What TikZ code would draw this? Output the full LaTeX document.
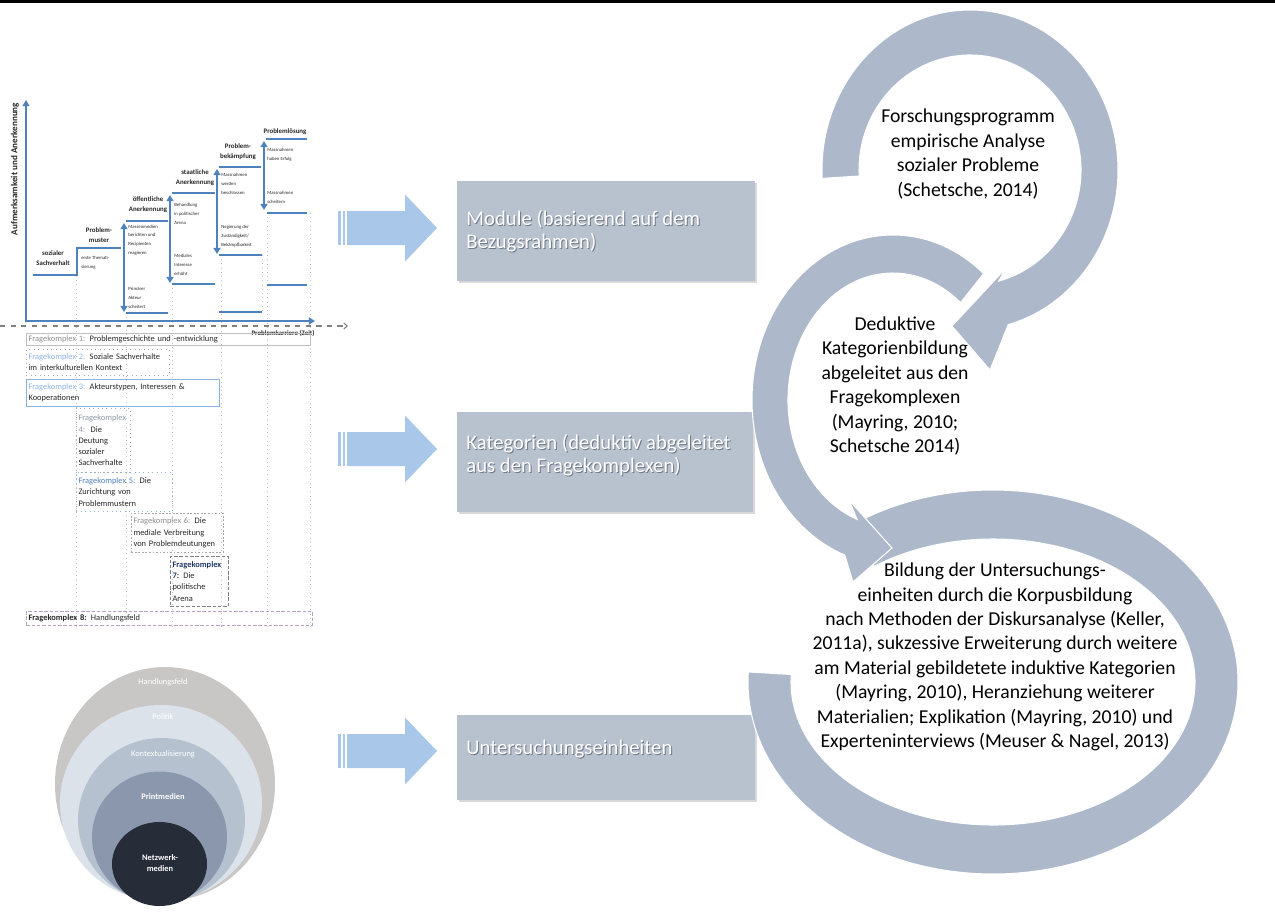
\documentclass[tikz,border=0pt]{standalone}
\usepackage{fontspec}
\setmainfont{Carlito}
\usetikzlibrary{arrows.meta,shadows}

\definecolor{ringc}{HTML}{ADB9CA}
\definecolor{boxc}{HTML}{B8C2CF}
\definecolor{arrowc}{HTML}{A9C8E9}
\definecolor{stepc}{HTML}{4F81BD}
\definecolor{dotc}{HTML}{C4C4C4}
\definecolor{txtc}{HTML}{262626}
\definecolor{shadec}{HTML}{6F7886}
\definecolor{fkgrey}{HTML}{8C8C8C}
\definecolor{fklight}{HTML}{8DB3E2}
\definecolor{fkblue}{HTML}{4F81BD}
\definecolor{fknavy}{HTML}{1F3864}
\definecolor{fkpurple}{HTML}{B3A2C7}
\definecolor{ellA}{HTML}{C9C7C5}
\definecolor{ellB}{HTML}{DCE2EA}
\definecolor{ellC}{HTML}{B6C1CF}
\definecolor{ellD}{HTML}{8A97AC}
\definecolor{ellE}{HTML}{262D39}

% blue block arrow, centred on height #1
\newcommand{\flowarrow}[1]{%
  \fill[arrowc] (338,{#1-17}) rectangle (340.5,{#1+17});
  \fill[arrowc] (342.5,{#1-17}) rectangle (345,{#1+17});
  \fill[arrowc] (347,{#1-17}) -- (405,{#1-17}) -- (405,{#1-33.5}) -- (437,#1)
    -- (405,{#1+33.5}) -- (405,{#1+17}) -- (347,{#1+17}) -- cycle;}

\begin{document}
\begin{tikzpicture}[x=0.02cm, y=-0.02cm,
  stepline/.style={draw=stepc, line width=1.1pt},
  steparrow/.style={stepline, {Triangle[length=3.5pt,width=4pt]}-{Triangle[length=3.5pt,width=4pt]}},
  gridline/.style={draw=dotc, dotted, line width=0.4pt},
  steplabel/.style={font=\fontsize{3.9}{5.6}\selectfont\bfseries, text=txtc, align=center, inner sep=0pt},
  stepnote/.style={font=\fontsize{2.7}{5}\selectfont, text=txtc, align=left, anchor=west, inner sep=0pt},
  fk/.style={anchor=north west, font=\fontsize{4.8}{6.4}\selectfont, text=txtc, align=left,
    inner xsep=1.2pt, inner ysep=0.8pt, line width=0.5pt},
  unitbox/.style={fill=boxc, inner sep=0pt, anchor=north west,
    drop shadow={shadow xshift=0.8pt, shadow yshift=-0.8pt, opacity=0.3}},
  boxtext/.style={font=\fontsize{11.8}{13}\selectfont, text=white, align=left, anchor=west, inner sep=0pt},
  boxshade/.style={boxtext, text=shadec},
  ring/.style={fill=ringc, draw=white, line width=0.6pt},
  ringtext/.style={font=\fontsize{11.2}{13.9}\selectfont, text=black, align=center, inner sep=0pt},
  elltext/.style={font=\fontsize{4.8}{6}\selectfont, text=white, align=center, inner sep=0pt}]

\useasboundingbox (0,0) rectangle (1275,913);
\fill[black] (0,0) rectangle (1275,3);

% chart: grid
\foreach \gx/\gy in {76/276, 126/313, 172/284, 221/255, 267/213, 310/213}
  \draw[gridline] (\gx,\gy) -- (\gx,628);
\draw[gridline] (262,255) -- (262,312);

% chart: axes
\draw[stepline, {Triangle[length=3.5pt,width=4pt]}-{Triangle[length=3.5pt,width=4pt]}]
  (26,100) -- (26,321) -- (315,321);
\draw[draw=gray, dashed, line width=0.6pt, -{Straight Barb[length=2pt,width=3.5pt]}] (0,326) -- (348,326);
\node[rotate=90, font=\fontsize{5.2}{6}\selectfont\bfseries, text=txtc, inner sep=0pt] (yaxis) at (15,169)
  {Aufmerksamkeit und Anerkennung};
\node[font=\fontsize{3.9}{5}\selectfont\bfseries, text=txtc, inner sep=0pt] (xaxis) at (283,333)
  {Problemkarriere (Zeit)};

% chart: steps
\draw[stepline] (33,275) -- (77,275) -- (77,248) -- (121,248);
\draw[steparrow] (124,223) -- (124,312);
\draw[stepline] (126,221) -- (168,221);
\draw[stepline] (126,313) -- (168,313);
\draw[steparrow] (170,195) -- (170,283);
\draw[stepline] (172,193) -- (215,193);
\draw[stepline] (172,284) -- (215,284);
\draw[steparrow] (217,169) -- (217,254);
\draw[stepline] (219,167) -- (261,167);
\draw[stepline] (219,255) -- (262,255);
\draw[stepline] (219,312) -- (262,312);
\draw[steparrow] (264,141) -- (264,210);
\draw[stepline] (266,139) -- (307,139);
\draw[stepline] (267,213) -- (307,213);
\draw[stepline] (267,285) -- (307,285);

\node[steplabel] (sach) at (53,258) {sozialer\\Sachverhalt};
\node[steplabel] (muster) at (99,235) {Problem-\\muster};
\node[steplabel] (oeff) at (148,205) {öffentliche\\Anerkennung};
\node[steplabel] (staat) at (195,178) {staatliche\\Anerkennung};
\node[steplabel] (bekaempf) at (238,152) {Problem-\\bekämpfung};
\node[steplabel] (loesung) at (285,132) {Problemlösung};

\node[stepnote] (thema) at (81,263) {erste Themati-\\sierung};
\node[stepnote] (medien) at (128,240) {Massenmedien\\berichten und\\Recipienten\\reagieren};
\node[stepnote] (akteur) at (128,298) {Primärer\\Akteur\\scheitert};
\node[stepnote] (arena) at (174,214) {Behandlung\\in politischer\\Arena};
\node[stepnote] (interesse) at (174,265) {Mediales\\Interesse\\erhöht};
\node[stepnote] (beschl) at (221,184) {Massnahmen\\werden\\beschlossen};
\node[stepnote] (negier) at (221,236) {Negierung der\\Zuständigkeit/\\Bekämpfbarkeit};
\node[stepnote] (erfolg) at (267,155) {Massnahmen\\haben Erfolg};
\node[stepnote] (scheit) at (267,197) {Massnahmen\\scheitern};

% Fragekomplexe
\node[fk, draw=black!25, text width=5.59cm, minimum height=0.24cm] (fk1) at (26,333)
  {\textcolor{fkgrey}{Fragekomplex 1:} Problemgeschichte und -entwicklung};
\node[fk, draw=black!35, dotted, text width=2.77cm, minimum height=0.52cm] (fk2) at (26,349)
  {\textcolor{fklight}{Fragekomplex 2:} Soziale Sachverhalte\\im interkulturellen Kontext};
\node[fk, draw=fklight, text width=3.77cm, minimum height=0.54cm] (fk3) at (26,379)
  {\textcolor{fklight}{Fragekomplex 3:} Akteurstypen, Interessen \&\\Kooperationen};
\node[fk, draw=black!35, dotted, text width=0.99cm, minimum height=1.28cm] (fk4) at (76,408)
  {\textcolor{fkgrey!70!fklight}{Fragekomplex}\\\textcolor{fkgrey!70!fklight}{4:}\ \ Die\\Deutung\\sozialer\\Sachverhalte};
\node[fk, draw=fklight, dotted, text width=1.83cm, minimum height=0.78cm] (fk5) at (76,472)
  {\textcolor{fkblue}{Fragekomplex 5:} Die\\Zurichtung von\\Problemmustern};
\node[fk, draw=black!35, dash pattern=on 1pt off 1pt, text width=1.75cm, minimum height=0.78cm] (fk6) at (131,513)
  {\textcolor{fkgrey}{Fragekomplex 6:} Die\\mediale Verbreitung\\von Problemdeutungen};
\node[fk, draw=black!50, dash pattern=on 2pt off 1pt, text width=1.07cm, minimum height=1cm] (fk7) at (170,556)
  {\textcolor{fknavy}{\bfseries Fragekomplex}\\\textcolor{fknavy}{\bfseries 7:} Die\\politische\\Arena};
\node[fk, draw=fkpurple, dash pattern=on 2pt off 1pt, text width=5.63cm, minimum height=0.28cm] (fk8) at (26,611)
  {\textbf{Fragekomplex 8:} Handlungsfeld};

% nested media fields
\fill[ellA] (165,784) ellipse [x radius=110, y radius=117];
\fill[ellB] (161,803) ellipse [x radius=101, y radius=98];
\fill[ellC] (161.5,820) ellipse [x radius=83.5, y radius=82];
\fill[ellD] (159.5,837) ellipse [x radius=67.5, y radius=65.5];
\fill[ellE] (159.5,864) ellipse [x radius=47.5, y radius=42];
\node[elltext] (feld) at (163,682) {Handlungsfeld};
\node[elltext] (politik) at (163,717) {Politik};
\node[elltext] (kontext) at (163,754) {Kontextualisierung};
\node[elltext, font=\fontsize{4.8}{6}\selectfont\bfseries] (print) at (163,797) {Printmedien};
\node[elltext, font=\fontsize{4.8}{6.4}\selectfont\bfseries] (netz) at (160,863) {Netzwerk-\\medien};

% block arrows
\flowarrow{228}
\flowarrow{449}
\flowarrow{751}

% grey boxes
\node[unitbox, minimum width=5.96cm, minimum height=2cm] (modbox) at (457,181) {};
\node[unitbox, minimum width=5.92cm, minimum height=2cm] (katbox) at (457,412) {};
\node[unitbox, minimum width=5.96cm, minimum height=1.7cm] (untbox) at (457,715) {};
\node[boxshade] at (467,232) {Module (basierend auf dem\\Bezugsrahmen)};
\node[boxtext] (modtext) at (466,231) {Module (basierend auf dem\\Bezugsrahmen)};
\node[boxshade] at (467,456) {Kategorien (deduktiv abgeleitet\\aus den Fragekomplexen)};
\node[boxtext] (kattext) at (466,455) {Kategorien (deduktiv abgeleitet\\aus den Fragekomplexen)};
\node[boxshade] at (467,750) {Untersuchungseinheiten};
\node[boxtext] (unttext) at (466,749) {Untersuchungseinheiten};

% circular arrows
\path[ring] ({993+245*cos(234)},{682+192*sin(234)})
  arc[start angle=234, end angle=543, x radius=245, y radius=192]
  -- ({993+202*cos(543)},{682+143*sin(543)})
  arc[start angle=543, end angle=234, x radius=202, y radius=143] -- cycle;
\path[ring] ({893+141*cos(310)},{400+165*sin(310)})
  arc[start angle=310, end angle=110, x radius=141, y radius=165]
  -- (853,582) -- (892,548) -- (849,500)
  -- ({893+105*cos(110)},{400+127*sin(110)})
  arc[start angle=110, end angle=310, x radius=105, y radius=127] -- cycle;
\path[ring] ({970+148*cos(177)},{170+160*sin(177)})
  arc[start angle=177, end angle=435, x radius=148, y radius=160]
  -- (990,370) -- (952,326) -- (1006,268)
  -- ({970+111*cos(435)},{170+115*sin(435)})
  arc[start angle=435, end angle=177, x radius=111, y radius=115] -- cycle;

\node[ringtext] (forsch) at (968,154)
  {Forschungsprogramm\\empirische Analyse\\sozialer Probleme\\(Schetsche, 2014)};
\node[ringtext] (dedukt) at (895,386)
  {Deduktive\\Kategorienbildung\\abgeleitet aus den\\Fragekomplexen\\(Mayring, 2010;\\Schetsche 2014)};
\node[ringtext] (bildung) at (995,657)
  {Bildung der Untersuchungs-\\einheiten durch die Korpusbildung\\nach Methoden der Diskursanalyse (Keller,\\2011a), sukzessive Erweiterung durch weitere\\am Material gebildetete induktive Kategorien\\(Mayring, 2010), Heranziehung weiterer\\Materialien; Explikation (Mayring, 2010) und\\Experteninterviews (Meuser \& Nagel, 2013)};
\end{tikzpicture}
\end{document}
